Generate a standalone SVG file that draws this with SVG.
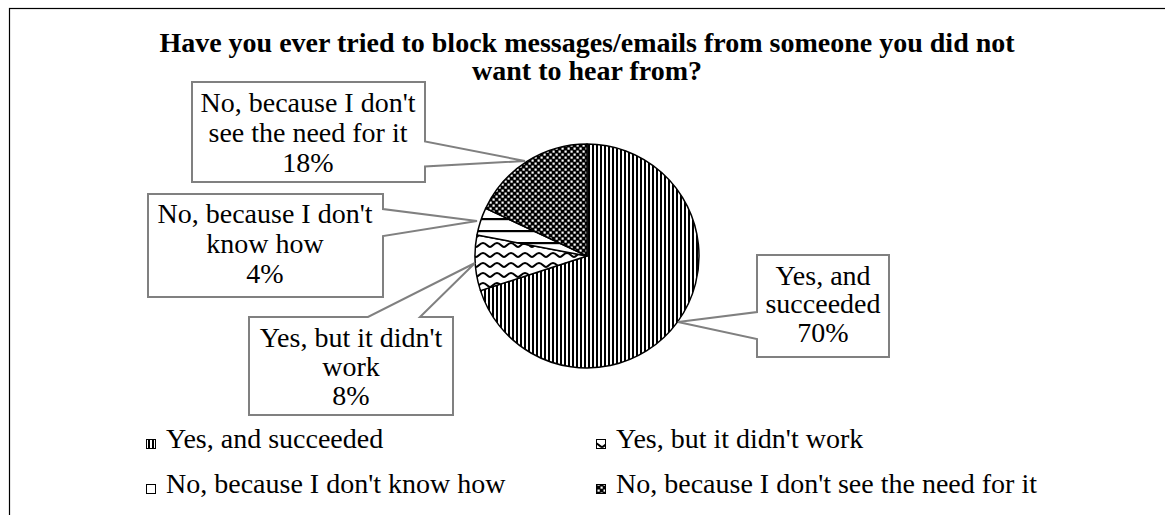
<svg xmlns="http://www.w3.org/2000/svg" width="1165" height="515" viewBox="0 0 1165 515">
  <style>
    .title { font-family: "Liberation Serif", "Times New Roman", serif; font-weight: bold; font-size: 28px; fill: #000; }
    .lbl { font-family: "Liberation Serif", "Times New Roman", serif; font-size: 28px; fill: #000; text-anchor: middle; }
    .leg { font-family: "Liberation Serif", "Times New Roman", serif; font-size: 28px; fill: #000; }
    .slice { stroke: #000; stroke-width: 1.5; stroke-linejoin: round; }
    .callout { fill: #fff; stroke: #808080; stroke-width: 2; }
    .key { stroke: #000; stroke-width: 1; }
  </style>
  <defs>
    <!-- vertical stripes -->
    <pattern id="pVert" width="4" height="4" patternUnits="userSpaceOnUse">
      <rect width="4" height="4" fill="#fff"/>
      <rect x="0" width="2" height="4" fill="#000"/>
    </pattern>
    <!-- wavy lines -->
    <pattern id="pWave" width="14" height="10" patternUnits="userSpaceOnUse">
      <rect width="14" height="10" fill="#fff"/>
      <path d="M0 7 C2.5 7 3.5 3 7 3 C10.5 3 11.5 7 14 7" fill="none" stroke="#000" stroke-width="2"/>
    </pattern>
    <!-- wide horizontal lines -->
    <pattern id="pHorz" width="10" height="12" patternUnits="userSpaceOnUse" y="2">
      <rect width="10" height="12" fill="#fff"/>
      <rect y="0" width="10" height="2.2" fill="#000"/>
    </pattern>
    <!-- dotted checker -->
    <pattern id="pDots" width="6" height="6" patternUnits="userSpaceOnUse">
      <rect width="6" height="6" fill="#000"/>
      <rect x="0.5" y="0.5" width="2.2" height="2.2" fill="#fff"/>
      <rect x="3.5" y="3.5" width="2.2" height="2.2" fill="#fff"/>
    </pattern>
  </defs>

  <!-- chart frame -->
  <rect x="9.5" y="8.5" width="1170" height="520" fill="#fff" stroke="#000" stroke-width="1.2"/>

  <g id="title">
    <text class="title" x="587" y="52" text-anchor="middle">Have you ever tried to block messages/emails from someone you did not</text>
    <text class="title" x="587" y="80" text-anchor="middle">want to hear from?</text>
  </g>

  <!-- pie slices, clockwise from 12 o'clock -->
  <g id="pie">
    <path id="slice-yes-succeeded" class="slice" fill="url(#pVert)" d="M587 256 L587 144 A112 112 0 1 1 480.48 290.61 Z"/>
    <path id="slice-yes-failed" class="slice" fill="url(#pWave)" d="M587 256 L480.48 290.61 A112 112 0 0 1 476.98 235.01 Z"/>
    <path id="slice-no-how" class="slice" fill="url(#pHorz)" d="M587 256 L476.98 235.01 A112 112 0 0 1 485.66 208.31 Z"/>
    <path id="slice-no-need" class="slice" fill="url(#pDots)" d="M587 256 L485.66 208.31 A112 112 0 0 1 587 144 Z"/>
  </g>

  <!-- data label callouts -->
  <g id="connectors">
    <path class="callout" d="M192 82 H425 V141.5 L525 161 L425 166.5 V182 H192 Z"/>
    <path class="callout" d="M148 194 H383 V209 L477 221 L383 236 V297 H148 Z"/>
    <path class="callout" d="M249 317 H368 L475 263 L420 317 H453 V415 H249 Z"/>
    <path class="callout" d="M757 255 H889 V357 H757 V339 L678 322 L757 312 Z"/>
  </g>

  <g id="label-no-need">
    <text class="lbl" x="308" y="112">No, because I don't</text>
    <text class="lbl" x="308" y="142">see the need for it</text>
    <text class="lbl" x="308" y="172">18%</text>
  </g>
  <g id="label-no-how">
    <text class="lbl" x="265" y="223">No, because I don't</text>
    <text class="lbl" x="265" y="253">know how</text>
    <text class="lbl" x="265" y="283">4%</text>
  </g>
  <g id="label-yes-failed">
    <text class="lbl" x="351" y="347">Yes, but it didn't</text>
    <text class="lbl" x="351" y="376">work</text>
    <text class="lbl" x="351" y="405">8%</text>
  </g>
  <g id="label-yes-succeeded">
    <text class="lbl" x="823" y="285">Yes, and</text>
    <text class="lbl" x="823" y="313">succeeded</text>
    <text class="lbl" x="823" y="342">70%</text>
  </g>

  <!-- legend -->
  <g id="legend">
    <rect class="key" x="146.5" y="439.5" width="9" height="9" fill="url(#pVert)"/>
    <text class="leg" x="166" y="448">Yes, and succeeded</text>
    <rect class="key" x="596.5" y="439.5" width="9" height="9" fill="url(#pWave)"/>
    <text class="leg" x="616" y="448">Yes, but it didn't work</text>
    <rect class="key" x="146.5" y="484.5" width="9" height="9" fill="url(#pHorz)"/>
    <text class="leg" x="166" y="493">No, because I don't know how</text>
    <rect class="key" x="596.5" y="484.5" width="9" height="9" fill="url(#pDots)"/>
    <text class="leg" x="616" y="493">No, because I don't see the need for it</text>
  </g>
</svg>
